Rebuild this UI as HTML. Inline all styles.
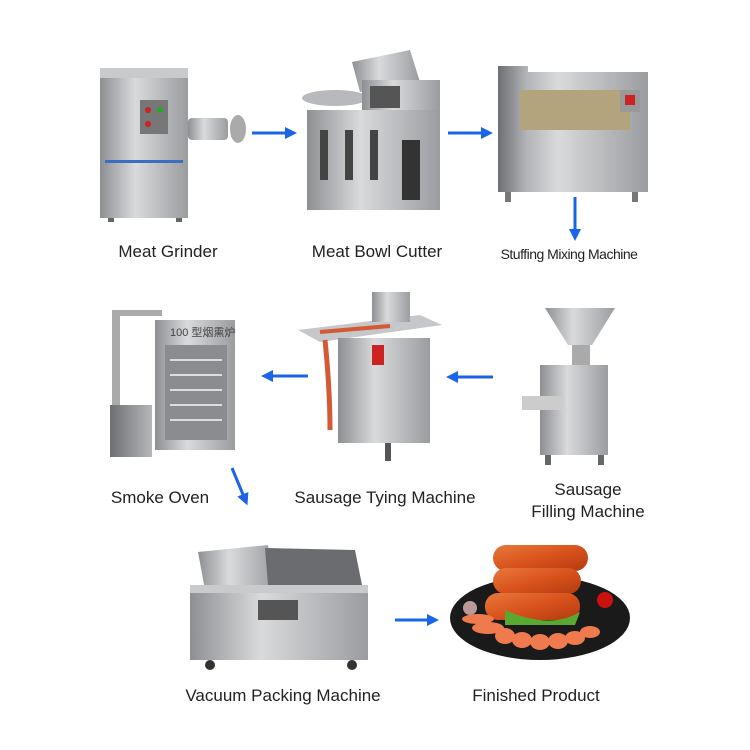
<!DOCTYPE html>
<html><head><meta charset="utf-8"><style>
body{margin:0;background:#fff;width:750px;height:750px;overflow:hidden;position:relative;font-family:"Liberation Sans",sans-serif}
.l{position:absolute;font-size:17px;color:#222;white-space:nowrap;transform:translateX(-50%);text-align:center;line-height:22px}
svg{position:absolute;left:0;top:0}
</style></head><body>
<svg width="750" height="750" viewBox="0 0 750 750">
<defs>
<linearGradient id="m" x1="0" x2="1"><stop offset="0" stop-color="#8d8f92"/><stop offset=".4" stop-color="#d9dadc"/><stop offset="1" stop-color="#9a9c9f"/></linearGradient>
<linearGradient id="d" x1="0" x2="1"><stop offset="0" stop-color="#6d6f72"/><stop offset="1" stop-color="#b5b7ba"/></linearGradient>
<linearGradient id="s" y1="0" y2="1"><stop offset="0" stop-color="#e87a3a"/><stop offset=".5" stop-color="#d9531c"/><stop offset="1" stop-color="#b23a10"/></linearGradient>
<marker id="h" markerWidth="4" markerHeight="4" refX="1" refY="2" orient="auto"><path d="M0,0L4,2L0,4z" fill="#1a64e8"/></marker>
</defs>
<rect x="100" y="68" width="88" height="150" fill="url(#m)"/>
<rect x="100" y="68" width="88" height="10" fill="#c9cacc"/>
<rect x="140" y="100" width="28" height="34" fill="#777"/>
<circle cx="148" cy="110" r="3" fill="#c22"/><circle cx="160" cy="110" r="3" fill="#2a2"/><circle cx="148" cy="124" r="3" fill="#c22"/>
<rect x="188" y="118" width="40" height="22" rx="4" fill="url(#m)"/><ellipse cx="238" cy="129" rx="8" ry="14" fill="#aaa"/>
<rect x="105" y="160" width="78" height="3" fill="#3b6ec0"/>
<rect x="108" y="218" width="6" height="4" fill="#666"/><rect x="176" y="218" width="6" height="4" fill="#666"/>
<ellipse cx="335" cy="98" rx="33" ry="8" fill="#b7b9bc"/>
<path d="M352 62 L410 50 L420 82 L360 92z" fill="url(#m)"/>
<rect x="362" y="80" width="78" height="45" fill="url(#m)"/>
<rect x="370" y="86" width="30" height="22" fill="#555"/>
<rect x="307" y="110" width="133" height="100" fill="url(#m)"/>
<rect x="320" y="130" width="8" height="50" fill="#444"/><rect x="345" y="130" width="8" height="50" fill="#444"/><rect x="370" y="130" width="8" height="50" fill="#444"/>
<rect x="402" y="140" width="18" height="60" fill="#333"/>
<rect x="498" y="72" width="150" height="120" fill="url(#m)"/>
<rect x="498" y="66" width="30" height="126" fill="url(#d)"/>
<rect x="520" y="90" width="110" height="40" fill="#b4a47e"/>
<rect x="620" y="90" width="20" height="22" fill="#999"/><rect x="625" y="95" width="10" height="10" fill="#c22"/>
<rect x="505" y="192" width="6" height="10" fill="#777"/><rect x="632" y="192" width="6" height="10" fill="#777"/>
<rect x="155" y="320" width="80" height="130" fill="url(#m)"/>
<rect x="165" y="345" width="62" height="95" fill="#8a8c8f"/>
<g stroke="#ddd" stroke-width="2"><line x1="170" y1="360" x2="222" y2="360"/><line x1="170" y1="375" x2="222" y2="375"/><line x1="170" y1="390" x2="222" y2="390"/><line x1="170" y1="405" x2="222" y2="405"/><line x1="170" y1="420" x2="222" y2="420"/></g>
<text x="170" y="336" font-size="11" fill="#444" font-family="Liberation Sans,'Noto Sans CJK SC',sans-serif">100 型烟熏炉</text>
<rect x="112" y="310" width="8" height="110" fill="#aaa"/><rect x="112" y="310" width="50" height="6" fill="#aaa"/>
<rect x="110" y="405" width="42" height="52" fill="url(#d)"/>
<path d="M298 330 L420 315 L442 325 L320 342z" fill="#c5c7ca"/>
<rect x="372" y="292" width="38" height="30" fill="url(#m)"/>
<rect x="338" y="338" width="92" height="105" fill="url(#m)"/>
<path d="M325 340 Q330 390 330 430" stroke="#d45a36" stroke-width="5" fill="none"/>
<path d="M320 332 L390 326" stroke="#d45a36" stroke-width="4"/>
<rect x="372" y="345" width="12" height="20" fill="#c22"/>
<rect x="385" y="443" width="6" height="18" fill="#555"/>
<path d="M545 308 L615 308 L592 345 L568 345z" fill="url(#m)"/>
<rect x="572" y="345" width="18" height="20" fill="#aaa"/>
<rect x="540" y="365" width="68" height="90" fill="url(#m)"/>
<rect x="522" y="396" width="40" height="14" fill="#ccc"/>
<rect x="545" y="455" width="6" height="10" fill="#666"/><rect x="598" y="455" width="6" height="10" fill="#666"/>
<path d="M198 552 L268 545 L276 586 L205 590z" fill="url(#m)"/>
<path d="M265 548 L355 550 L362 585 L268 585z" fill="#6a6c70"/>
<rect x="190" y="585" width="178" height="75" fill="url(#m)"/>
<rect x="190" y="585" width="178" height="8" fill="#c9cacc"/>
<rect x="258" y="600" width="40" height="20" fill="#555"/>
<circle cx="210" cy="665" r="5" fill="#333"/><circle cx="352" cy="665" r="5" fill="#333"/>
<ellipse cx="540" cy="618" rx="90" ry="42" fill="#1a1a1a"/>
<rect x="493" y="545" width="95" height="26" rx="13" fill="url(#s)"/>
<rect x="493" y="568" width="88" height="26" rx="13" fill="url(#s)"/>
<rect x="485" y="593" width="95" height="27" rx="13" fill="url(#s)"/>
<path d="M505 610 Q550 630 580 612 L575 625 L505 625z" fill="#5ba830"/>
<g fill="#ef7a4e"><ellipse cx="478" cy="619" rx="16" ry="5"/><ellipse cx="488" cy="628" rx="16" ry="6"/><ellipse cx="505" cy="636" rx="10" ry="8"/><ellipse cx="522" cy="640" rx="10" ry="8"/><ellipse cx="540" cy="642" rx="10" ry="8"/><ellipse cx="558" cy="641" rx="10" ry="8"/><ellipse cx="575" cy="638" rx="10" ry="7"/><ellipse cx="590" cy="632" rx="10" ry="6"/></g>
<circle cx="605" cy="600" r="8" fill="#c11"/><circle cx="470" cy="608" r="7" fill="#b99"/>
<g stroke="#1a64e8" stroke-width="3" fill="none" marker-end="url(#h)">
<line x1="252" y1="133" x2="288" y2="133"/>
<line x1="448" y1="133" x2="484" y2="133"/>
<line x1="395" y1="620" x2="430" y2="620"/>
<line x1="575" y1="197" x2="575" y2="232"/>
<line x1="493" y1="377" x2="455" y2="377"/>
<line x1="308" y1="376" x2="270" y2="376"/>
<line x1="232" y1="468" x2="244" y2="497"/>
</g>
</svg>
<div class="l" style="left:168px;top:241px">Meat Grinder</div>
<div class="l" style="left:377px;top:241px">Meat Bowl Cutter</div>
<div class="l" style="left:569px;top:243px;font-size:14px;letter-spacing:-0.5px">Stuffing Mixing Machine</div>
<div class="l" style="left:160px;top:487px">Smoke Oven</div>
<div class="l" style="left:385px;top:487px">Sausage Tying Machine</div>
<div class="l" style="left:588px;top:479px">Sausage<br>Filling Machine</div>
<div class="l" style="left:283px;top:685px">Vacuum Packing Machine</div>
<div class="l" style="left:536px;top:685px">Finished Product</div>
</body></html>
